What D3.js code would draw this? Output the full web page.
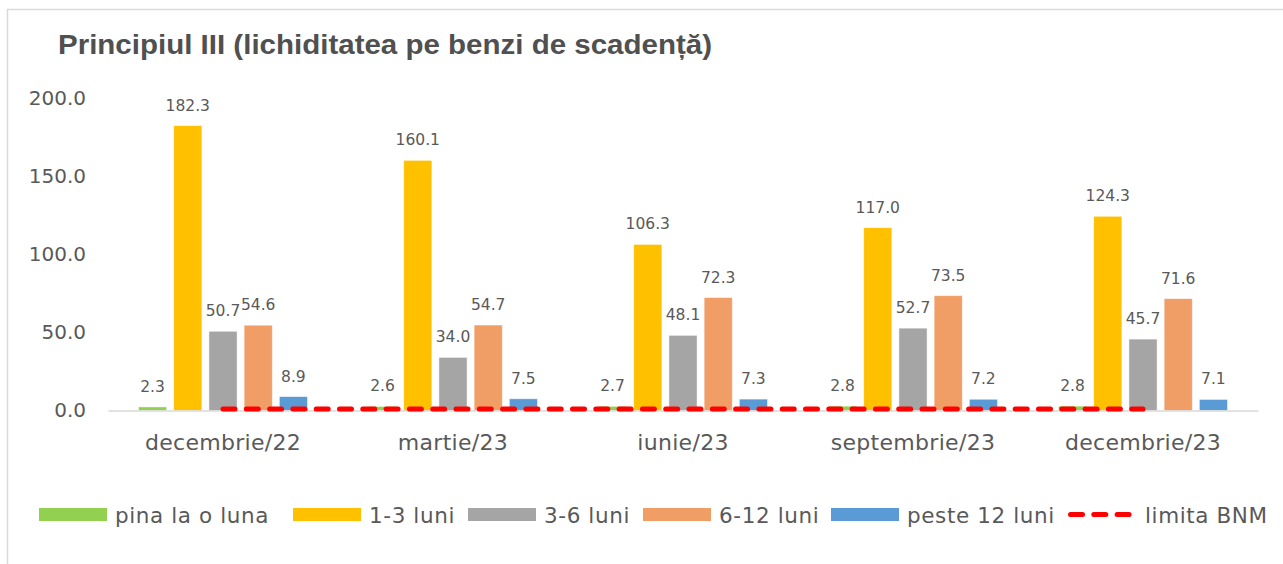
<!DOCTYPE html>
<html>
<head>
<meta charset="utf-8">
<script src="https://cdn.jsdelivr.net/npm/d3@7"></script>
<style>
  html, body { margin: 0; padding: 0; background: #fff; }
  svg { display: block; }
  text { font-family: "DejaVu Sans", "Liberation Sans", sans-serif; fill: #595959; }
</style>
</head>
<body>
<svg id="chart" width="1283" height="564"></svg>
<script>
// ---- data ----
const title = "Principiul III (lichiditatea pe benzi de scadență)";
const categories = ["decembrie/22", "martie/23", "iunie/23", "septembrie/23", "decembrie/23"];
const seriesNames = ["pina la o luna", "1-3 luni", "3-6 luni", "6-12 luni", "peste 12 luni"];
const seriesColors = ["#92D050", "#FFC000", "#A5A5A5", "#F19E66", "#5B9BD5"];
const pinaLaOLuna = [2.3, 2.6, 2.7, 2.8, 2.8];
const luni1_3 = [182.3, 160.1, 106.3, 117.0, 124.3];
const luni3_6 = [50.7, 34.0, 48.1, 52.7, 45.7];
const luni6_12 = [54.6, 54.7, 72.3, 73.5, 71.6];
const peste12 = [8.9, 7.5, 7.3, 7.2, 7.1];
const limitaName = "limita BNM";
const limitaBNM = [1.0, 1.0, 1.0, 1.0, 1.0];
const yTicks = [0, 50, 100, 150, 200];

const seriesValues = [pinaLaOLuna, luni1_3, luni3_6, luni6_12, peste12];

// ---- layout ----
const svg = d3.select("#chart");
const W = 1283, H = 564;

// frame
svg.append("path")
  .attr("d", `M7.5,${H} L7.5,9.5 L${W},9.5`)
  .attr("fill", "none").attr("stroke", "#d9d9d9").attr("stroke-width", 1.5);

// title
svg.append("text")
  .attr("x", 58).attr("y", 54)
  .attr("textLength", 654).attr("lengthAdjust", "spacingAndGlyphs")
  .style("font-family", "'Liberation Sans Narrow', 'Liberation Sans', 'DejaVu Sans Condensed', sans-serif")
  .style("font-weight", "bold").style("font-size", "28px")
  .style("fill", "#505050")
  .text(title);

const plotLeft = 108, plotRight = 1258;
const x0 = d3.scaleBand().domain(categories).range([plotLeft, plotRight]).padding(0);
const bw = x0.bandwidth();
const groupW = 169;
const x1 = d3.scaleBand().domain(seriesNames)
  .range([(bw - groupW) / 2, (bw + groupW) / 2]).paddingInner(0.2).paddingOuter(0);
const y = d3.scaleLinear().domain([0, 200]).range([410.5, 98]);

// y axis labels
const yAxis = d3.axisLeft(y).tickValues(yTicks).tickFormat(d3.format(".1f")).tickSize(0).tickPadding(0);
const yg = svg.append("g").attr("transform", "translate(86,0)").call(yAxis);
yg.select(".domain").remove();
yg.selectAll("text").style("font-size", "20px").style("fill", "#595959")
  .style("font-family", "'DejaVu Sans', sans-serif");

// bars
const groups = svg.append("g").selectAll("g")
  .data(categories).join("g")
  .attr("transform", d => `translate(${x0(d)},0)`);

groups.each(function(cat, ci) {
  const g = d3.select(this);
  seriesNames.forEach((s, si) => {
    const v = seriesValues[si][ci];
    g.append("rect")
      .attr("x", x1(s)).attr("width", x1.bandwidth())
      .attr("y", y(v)).attr("height", y(0) - y(v))
      .attr("fill", seriesColors[si])
      .attr("stroke", "#ffffff").attr("stroke-width", 0.8).attr("stroke-opacity", 0.6);
    g.append("text")
      .attr("x", x1(s) + x1.bandwidth() / 2)
      .attr("y", y(v) - 15)
      .attr("text-anchor", "middle")
      .style("font-size", "15.5px")
      .text(d3.format(".1f")(v));
  });
});

// baseline axis
const xAxis = d3.axisBottom(x0).tickSize(0).tickPadding(0);
const xg = svg.append("g").attr("transform", `translate(0,${y(0)})`).call(xAxis);
xg.select(".domain").attr("stroke", "#d9d9d9").attr("stroke-width", 1.5);
xg.selectAll("text").attr("dy", null).attr("y", 39.5)
  .style("font-size", "22px").style("letter-spacing", "0.3px").style("fill", "#595959")
  .style("font-family", "'DejaVu Sans', sans-serif");

// limita BNM line
const line = d3.line()
  .x((d, i) => x0(categories[i]) + bw / 2)
  .y(d => y(d));
svg.append("path")
  .datum(limitaBNM)
  .attr("d", line)
  .attr("fill", "none").attr("stroke", "#FF0000").attr("stroke-width", 5)
  .attr("stroke-linecap", "round").attr("stroke-dasharray", "12 11.3");

// legend
const legendItems = seriesNames.map((n, i) => ({ name: n, color: seriesColors[i], type: "bar" }))
  .concat([{ name: limitaName, color: "#FF0000", type: "line" }]);
const legendX = [39, 293, 468, 643, 831, 1068];
const lg = svg.append("g");
legendItems.forEach((it, i) => {
  const gx = legendX[i];
  if (it.type === "bar") {
    lg.append("rect").attr("x", gx).attr("y", 508).attr("width", 68).attr("height", 13).attr("fill", it.color);
    lg.append("text").attr("x", gx + 76).attr("y", 523)
      .style("font-size", "21.5px").style("letter-spacing", "0.6px").text(it.name);
  } else {
    lg.append("line").attr("x1", gx + 2.5).attr("x2", gx + 63).attr("y1", 514.5).attr("y2", 514.5)
      .attr("stroke", it.color).attr("stroke-width", 5).attr("stroke-linecap", "round")
      .attr("stroke-dasharray", "12 11.3");
    lg.append("text").attr("x", gx + 77).attr("y", 523)
      .style("font-size", "21.5px").style("letter-spacing", "0.6px").text(it.name);
  }
});
</script>
</body>
</html>
